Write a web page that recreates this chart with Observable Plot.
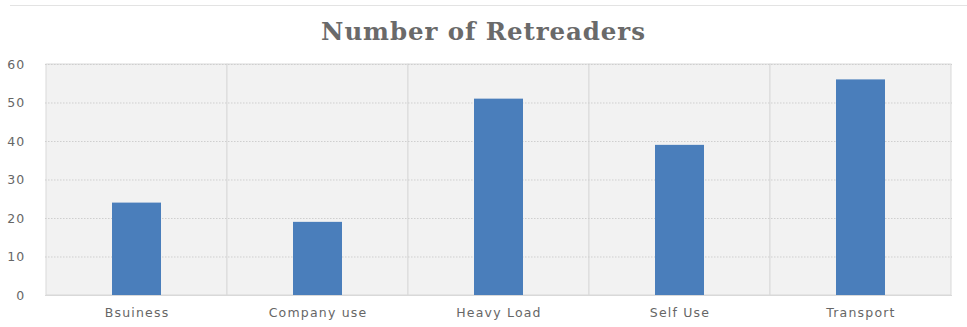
<!DOCTYPE html>
<html>
<head>
<meta charset="utf-8">
<script src="https://cdn.jsdelivr.net/npm/d3@7"></script>
<script src="https://cdn.jsdelivr.net/npm/@observablehq/plot@0.6"></script>
<style>
  html, body { margin: 0; padding: 0; background: #fff; width: 967px; height: 327px; overflow: hidden; }
  #topline { position: absolute; left: 10px; right: 0; top: 5px; height: 0; border-top: 1.5px solid #e3e3e3; }
  #title { position: absolute; left: 0; width: 967px; top: 17px; text-align: center;
           font-family: "DejaVu Serif", serif; font-weight: bold; font-size: 24.5px; color: #6a6a6a; letter-spacing: 0.9px; }
  #chart { position: absolute; left: 0; top: 48px; }
</style>
</head>
<body>
<div id="topline"></div>
<div id="title">Number of Retreaders</div>
<div id="chart"></div>
<script>
const categories = ["Bsuiness", "Company use", "Heavy Load", "Self Use", "Transport"];
const values = [24, 19, 51, 39, 56];
const yTicks = [0, 10, 20, 30, 40, 50, 60];

const data = categories.map((c, i) => ({category: c, value: values[i]}));
const bands = categories.map(c => ({category: c}));

const chart = Plot.plot({
  width: 967,
  height: 279,
  marginLeft: 45,
  marginRight: 15,
  marginTop: 16,
  marginBottom: 32,
  style: {fontFamily: "'DejaVu Sans', sans-serif", fontSize: "12.5px", color: "#595959", background: "transparent", letterSpacing: "1.2px"},
  x: {domain: categories, padding: 0, label: null},
  y: {domain: [0, 60], label: null},
  marks: [
    Plot.barY(bands, {x: "category", y1: 0, y2: 60, fill: "#f2f2f2", stroke: "#d9d9d9", strokeWidth: 1}),
    Plot.gridY(yTicks.filter(t => t > 0), {stroke: "#cfcfcf", strokeOpacity: 1, strokeDasharray: "1.5,1.5"}),
    Plot.ruleY([0], {stroke: "#d9d9d9"}),
    Plot.barY(data, {x: "category", y: "value", fill: "#4a7ebb", insetLeft: 66, insetRight: 66}),
    Plot.axisY(yTicks, {tickSize: 0, tickPadding: 20, fill: "#666", fontSize: 12.5}),
    Plot.axisX({tickSize: 0, tickPadding: 13, fill: "#666", fontSize: 12.5})
  ]
});
document.getElementById("chart").appendChild(chart);
</script>
</body>
</html>
